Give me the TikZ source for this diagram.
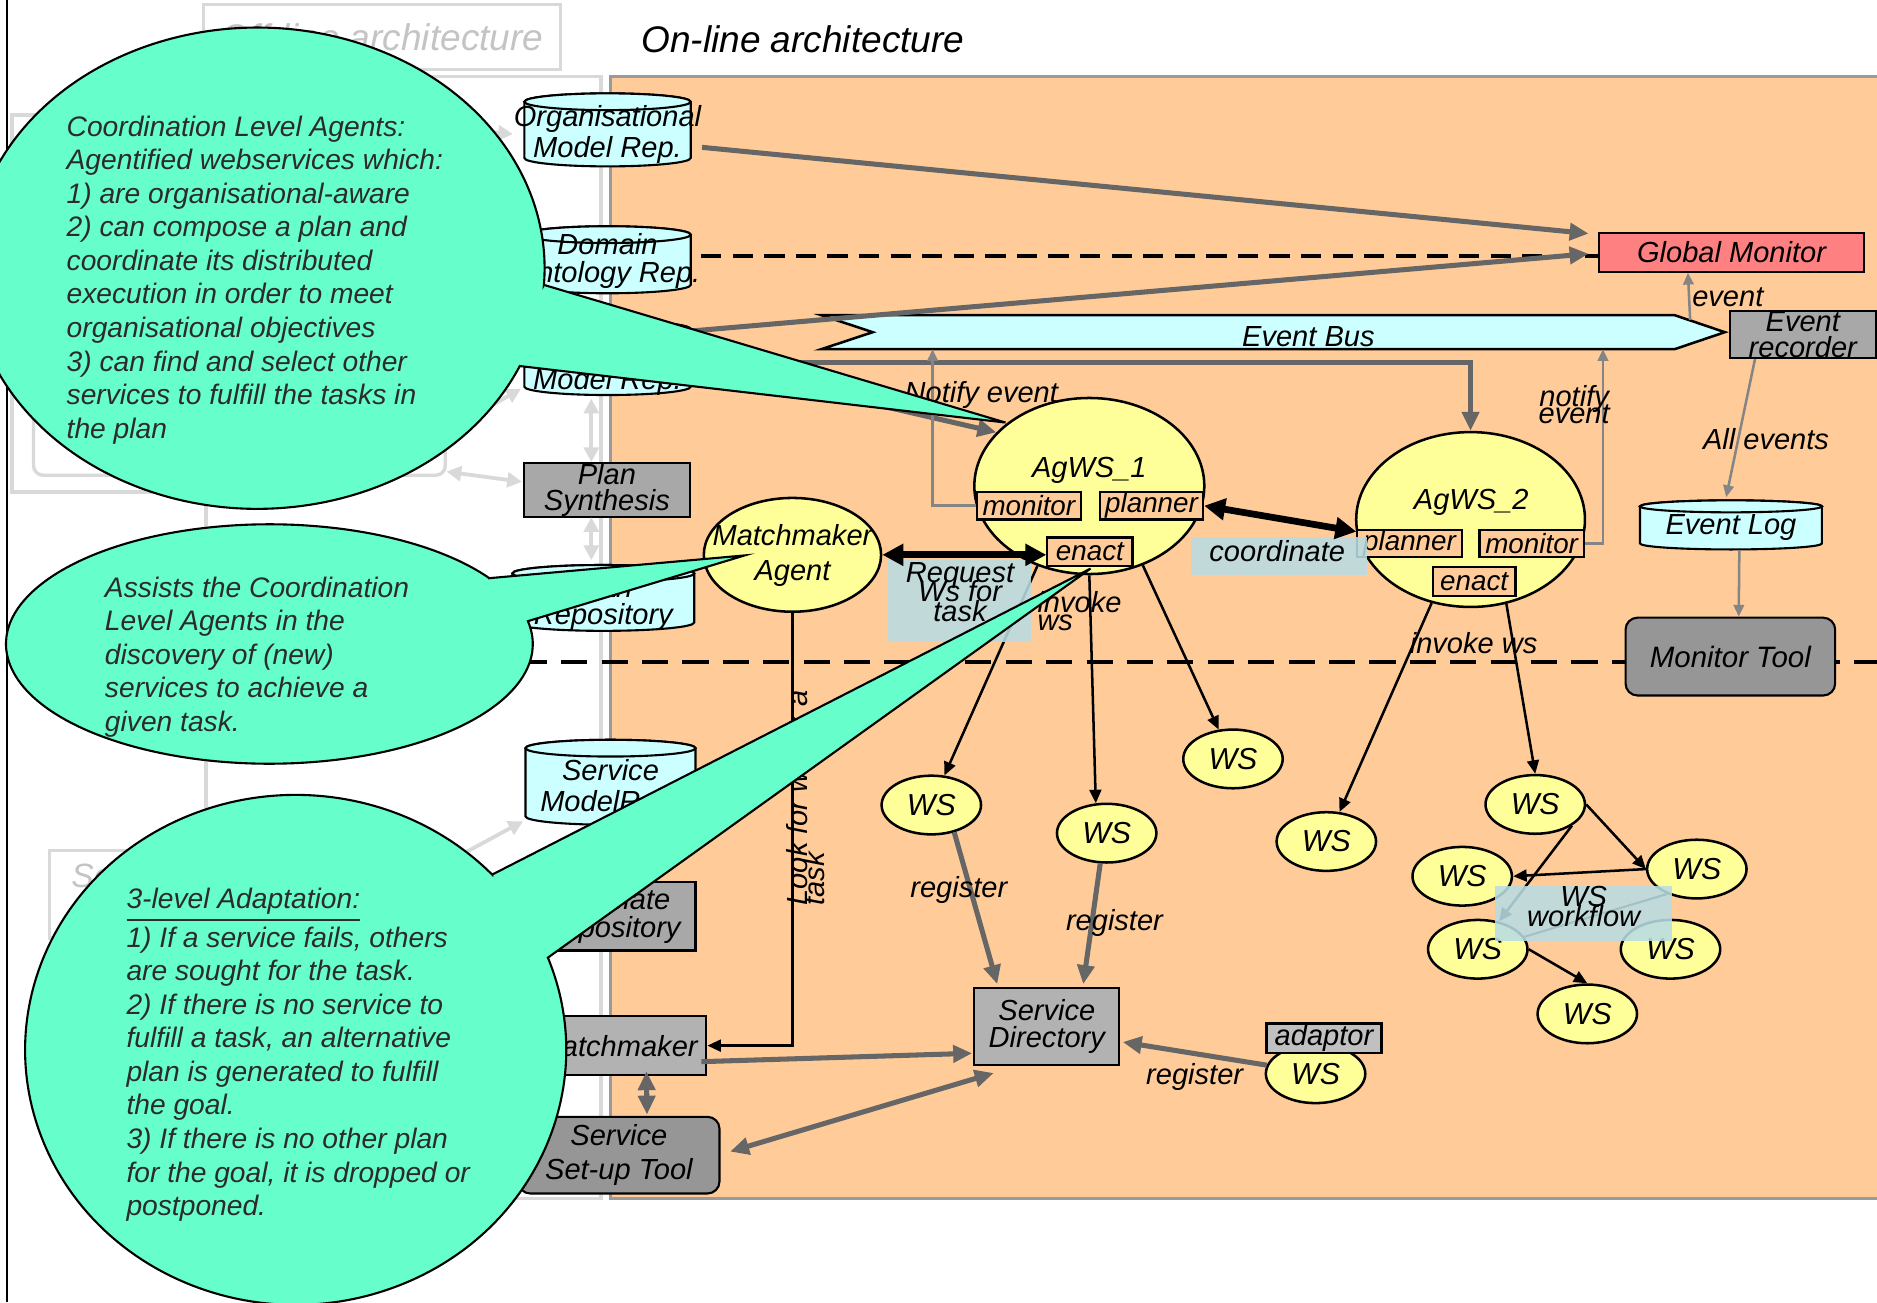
\documentclass[tikz,border=0pt]{standalone}
\usepackage{fontspec}
\setmainfont{Liberation Sans}
\usetikzlibrary{arrows.meta,shapes.geometric,calc}
\definecolor{peach}{HTML}{FFCC99}
\definecolor{cyanfill}{HTML}{CCFFFF}
\definecolor{yel}{HTML}{FFFF99}
\definecolor{calloutc}{HTML}{66FFCC}
\definecolor{wirec}{HTML}{666666}
\definecolor{thinc}{HTML}{858585}
\definecolor{fadedc}{HTML}{D9D9D9}
\definecolor{fadedtxt}{HTML}{C4C4C4}
\definecolor{lblc}{HTML}{B9DCE2}
\definecolor{gmred}{HTML}{FF8080}
\definecolor{grayA}{HTML}{A8A8A8}
\definecolor{grayB}{HTML}{B2B2B2}
\definecolor{grayC}{HTML}{969696}
\definecolor{grayD}{HTML}{C0C0C0}
\definecolor{ctext}{HTML}{2B2B2B}
\definecolor{panelc}{HTML}{9A9A9A}
\newcommand\myft[2]{\fontsize{#1}{#2}\selectfont\itshape\lineskiplimit=-\maxdimen\relax}
\newcommand\mycyl[5]{%
  \filldraw[cylst] (#1-#4,#2+#5) -- (#1-#4,#3-#5)
    arc[start angle=180,end angle=0,x radius=#4,y radius=#5]
    -- (#1+#4,#2+#5)
    arc[start angle=0,end angle=-180,x radius=#4,y radius=#5] -- cycle;
  \filldraw[cylst] (#1,#2+#5) ellipse[x radius=#4,y radius=#5];}
\tikzset{
  every node/.style={font=\myft{6.9}{7.8}, inner sep=0pt, align=center},
  gbox/.style={draw=black, line width=0.5pt, rectangle},
  ell/.style={draw=black, line width=0.6pt, ellipse, fill=yel},
  wsn/.style={ell, minimum width=0.83cm, minimum height=0.49cm, font=\myft{7.2}{8}},
  sub/.style={draw=black, line width=0.5pt, fill=peach, rectangle, font=\myft{6.6}{7}},
  cylst/.style={draw=black, line width=0.5pt, fill=cyanfill},
  gw/.style={draw=wirec, line width=1.2pt},
  gwa/.style={gw, -{Triangle[length=4.5pt,width=4pt]}},
  gwd/.style={gw, {Triangle[length=4.5pt,width=4pt]}-{Triangle[length=4.5pt,width=4pt]}},
  ba/.style={draw=black, line width=0.6pt, -{Triangle[length=3.2pt,width=2.8pt]}},
  bd/.style={draw=black, line width=1.6pt, {Triangle[length=5pt,width=5pt]}-{Triangle[length=5pt,width=5pt]}},
  ta/.style={draw=thinc, line width=0.6pt, -{Triangle[length=2.8pt,width=2.5pt]}},
  fa/.style={draw=fadedc, line width=0.9pt, -{Triangle[length=3.5pt,width=3.5pt]}},
  fad/.style={draw=fadedc, line width=0.9pt, {Triangle[length=3.5pt,width=3.5pt]}-{Triangle[length=3.5pt,width=3.5pt]}},
  lbox/.style={fill=lblc, fill opacity=0.88, rectangle},
  dsh/.style={draw=black, line width=1pt, dash pattern=on 4.8pt off 2.7pt},
  dshb/.style={draw=black, line width=1.1pt, dash pattern=on 6.2pt off 3.4pt},
  co/.style={fill=calloutc, draw=black, line width=0.5pt},
  ct/.style={font=\fontsize{6.7}{7.97}\selectfont\itshape, text=ctext, align=left, anchor=north west},
}
\begin{document}
\begin{tikzpicture}[x=0.01cm,y=-0.01cm]
\useasboundingbox (0,0) rectangle (1568,1088);
\fill[white] (0,0) rectangle (1568,1088);

% ---------- faded off-line part ----------
\node[draw=fadedc, line width=0.8pt, minimum width=2.98cm, minimum height=0.54cm, text=fadedtxt, font=\myft{8.8}{10}] (offtitle) at (319,31) {Off-line architecture};
\draw[fadedc, line width=0.8pt] (172,64) rectangle (502,1001);
\draw[fadedc, line width=0.8pt] (10,96) rectangle (172,411);
\draw[fadedc, line width=0.8pt, rounded corners=0.08cm] (28,300) rectangle (372,397);
\node[draw=fadedc, line width=0.8pt, minimum width=2.0cm, minimum height=0.73cm, anchor=north west] (offse) at (40,709) {};
\node[text=fadedtxt, font=\myft{8}{9}, anchor=west] (offsetxt) at (59,731) {Service};

\draw[black, line width=0.6pt] (6,0) -- (6,1088);

% ---------- on-line panel ----------
\filldraw[fill=peach, draw=panelc, line width=0.8pt] (510,64) rectangle (1575,1001);
\node[font=\myft{8.8}{10}, anchor=west] (title) at (535,33) {On-line architecture};

\coordinate (dla) at (300,553);
\coordinate (dlb) at (1568,553);
\draw[dshb] (dla) -- (dlb);

% ---------- cylinders ----------
\mycyl{507.5}{78}{139}{69.5}{7}
\node[minimum width=1.39cm, minimum height=0.54cm, font=\myft{6.9}{7.4}] (orgrep) at (507.5,112) {Organisational\\Model Rep.};
\mycyl{507.5}{189}{245}{69.5}{7}
\node[minimum width=1.39cm, minimum height=0.49cm, font=\myft{6.9}{6.8}] (domrep) at (507.5,218) {Domain\\Ontology Rep.};
\mycyl{507.5}{268}{330}{69.5}{7}
\node[minimum width=1.39cm, minimum height=0.55cm] (modrep) at (507.5,302.5) {};
\node (modrept) at (507.5,319) {Model Rep.};
\mycyl{504}{472}{527}{76}{7}
\node[minimum width=1.52cm, minimum height=0.48cm, font=\myft{6.9}{6.3}] (planrep) at (504,504) {Plan\\Repository};
\mycyl{510}{618}{689}{71}{7}
\node[minimum width=1.42cm, minimum height=0.64cm, font=\myft{6.9}{7.4}] (svcrep) at (510,659) {Service\\ModelRep.};
\mycyl{1446}{418}{459}{76}{5}
\node[minimum width=1.52cm, minimum height=0.36cm] (eventlog) at (1446,441) {Event Log};

% ---------- boxes ----------
\node[gbox, fill=grayA, minimum width=1.38cm, minimum height=0.45cm, font=\myft{6.9}{6.3}] (plansyn) at (507,409.5) {Plan\\Synthesis};
\node[gbox, fill=grayA, minimum width=1.41cm, minimum height=0.57cm, font=\myft{6.9}{6.6}] (tplrep) at (510.5,765.5) {Template\\Repository};
\node[gbox, fill=grayB, minimum width=1.48cm, minimum height=0.49cm] (mmbox) at (516,873.5) {Matchmaker};
\node[gbox, fill=grayC, rounded corners=0.1cm, minimum width=1.68cm, minimum height=0.64cm, font=\myft{6.9}{8.2}] (setup) at (517,965) {Service\\Set-up Tool};
\node[gbox, fill=grayB, minimum width=1.21cm, minimum height=0.65cm, font=\myft{6.9}{6.5}] (sdir) at (874.5,857.5) {Service\\Directory};
\node[gbox, fill=gmred, minimum width=2.21cm, minimum height=0.32cm] (gmon) at (1446.5,211) {Global Monitor};
\node[gbox, fill=grayA, minimum width=1.22cm, minimum height=0.39cm, font=\myft{6.9}{6}] (evrec) at (1506,279.5) {Event\\recorder};
\node[gbox, fill=grayC, rounded corners=0.1cm, minimum width=1.75cm, minimum height=0.65cm, font=\myft{7}{8}] (montool) at (1445.5,548.5) {Monitor Tool};

% ---------- event bus ----------
\node[minimum width=7.53cm, minimum height=0.27cm] (bus) at (1063.5,277.5) {};
\filldraw[fill=cyanfill, draw=black, line width=0.6pt] (bus.north west) -- ($(bus.north east)+(-42,0)$) -- (bus.east) -- ($(bus.south east)+(-42,0)$) -- (bus.south west) -- ($(bus.west)+(43,0)$) -- cycle;
\node (bustxt) at (1093,281.5) {Event Bus};

% ---------- agents ----------
\node[ell, minimum width=1.92cm, minimum height=1.47cm] (ag1) at (910,406) {};
\node (ag1t) at (910,392.6) {AgWS\_1};
\node[sub, minimum width=0.87cm, minimum height=0.23cm] (mon1) at (859.5,422.5) {monitor};
\node[sub, minimum width=0.86cm, minimum height=0.23cm] (plan1) at (962,422.5) {planner};
\node[sub, minimum width=0.71cm, minimum height=0.24cm] (enact1) at (910.5,461) {enact};

\node[ell, minimum width=1.91cm, minimum height=1.46cm] (ag2) at (1228.5,434) {};
\node (ag2t) at (1229,420) {AgWS\_2};
\node[sub, minimum width=0.87cm, minimum height=0.22cm] (plan2) at (1177.5,454) {planner};
\node[sub, minimum width=0.87cm, minimum height=0.22cm] (mon2) at (1279.5,454) {monitor};
\node[sub, minimum width=0.69cm, minimum height=0.24cm] (enact2) at (1231.5,486) {enact};

\node[ell, minimum width=1.48cm, minimum height=0.95cm] (mma) at (662,463.5) {};
\node[font=\myft{6.9}{8.5}] (mmat) at (662,464) {Matchmaker\\Agent};

% ---------- web services ----------
\node[wsn] (ws1) at (778,672.5) {WS};
\node[wsn] (ws2) at (924.5,696) {WS};
\node[wsn] (ws3) at (1030,634) {WS};
\node[wsn] (ws4) at (1108,703) {WS};
\node[wsn] (wtop) at (1282.5,672) {WS};
\node[wsn] (wleft) at (1221.5,732) {WS};
\node[wsn] (wright) at (1417.5,726) {WS};
\node[wsn] (wbl) at (1234.5,793) {WS};
\node[wsn] (wbr) at (1395.5,793) {WS};
\node[wsn] (wbot) at (1326,847) {WS};
\node[wsn] (wsad) at (1099,897) {WS};
\node[gbox, fill=grayD, minimum width=0.96cm, minimum height=0.25cm] (adaptor) at (1106,867.5) {adaptor};

% ---------- faded connectors ----------
\draw[fa] (405,110) -- (orgrep.west);
\draw[fa] (412,338) -- ($(modrep.south west)+(-2,-6)$);
\draw[fad] (373,394) -- ($(plansyn.west)+(-1,-7)$);
\draw[fad] (494,333) -- (494,386);
\draw[fad] (494,432) -- (494,468);
\draw[fa] (389,712) -- (437,686);

% ---------- gray wires ----------
\draw[dsh] ($(domrep.east)+(0,-4)$) coordinate (d1) -- (d1 -| gmon.west);
\draw[gwa] (orgrep.-8) -- ($(gmon.north west)+(-8,1)$);
\draw[gwa] ($(modrep.east)+(0,-26)$) -- ($(gmon.west)+(-8,1)$);
\draw[gwa] (modrep.east) -| (ag2.north);
\draw[gwa] (modrep.east) -- (ag1.150);
\draw[ta] (mon1.west) -| ($(bus.south west)+(93,0)$);
\draw[ta] (mon2.east) -| ($(bus.south west)+(653,0)$);
\draw[ta] ($(bus.north east)+(-29,4)$) -- ($(gmon.south west)+(75,0)$);
\draw[ta] ($(evrec.south west)+(22,0)$) -- ($(eventlog.north)+(-4,-7)$);
\draw[ta] ($(eventlog.south)+(7,0)$) -- ($(montool.north)+(7,0)$);

\draw[gwa] ($(mmbox.south east)+(-5,-12)$) -- ($(sdir.south west)+(-1,-11)$);
\draw[gwd] ($(mmbox.south)+(24,-4)$) -- ($(setup.north)+(23.5,-1)$);
\draw[gwd] ($(setup.east)+(8,-3)$) -- ($(sdir.south west)+(17,5.5)$);
\draw[gwa] (ws1.-50) -- ($(sdir.north west)+(20,-2)$);
\draw[gwa] (ws2.-102) -- ($(sdir.north east)+(-31,-2)$);
\draw[gwa] (wsad.170) -- ($(sdir.east)+(2,13)$);

% ---------- black connectors ----------
\draw[ba] (ag1.-123) -- (ws1);
\draw[ba] (ag1.south) -- (ws2.110);
\draw[ba] (ag1.-56) -- (ws3.116);
\draw[ba] (ag2.-115) -- (ws4.66);
\draw[ba] (ag2.-67) -- (wtop.north);
\draw[ba] (wtop.east) -- (wright.west);
\draw[ba] (wright.west) -- (wleft.east);
\draw[ba] (wtop.-30) -- (wbl);
\draw[ba] (wbl.east) -- (wbot.north);
\draw[black, line width=0.5pt] (wbl.15) -- (wright.-140);
\draw[ba] (mma.south) |- (mmbox.east);

% ---------- label boxes ----------
\node[lbox, minimum width=1.19cm, minimum height=0.68cm] (reqbox) at (801.5,502) {};
\node[lbox, minimum width=1.47cm, minimum height=0.31cm] (coordbox) at (1068.5,464.5) {};
\node[lbox, minimum width=1.48cm, minimum height=0.46cm] (wfbox) at (1323,763) {};
\node[font=\myft{6.9}{4.7}] (reqtxt) at (802,494.5) {Request\\Ws for\\task};
\node (coordtxt) at (1067,460) {coordinate};
\node[font=\myft{6.9}{4.8}] (wftxt) at (1323,757.5) {WS\\workflow};

\draw[bd] (mma.east) -- (mma.east -| enact1.west);
\draw[bd] (plan1.east) -- ($(plan2.north west)+(0,2)$);

% ---------- labels ----------
\node[anchor=west] (lnot1) at (755,330) {Notify event};
\node[font=\myft{6.9}{3.9}] (lnot2) at (1315,338) {notify\\event};
\node[anchor=west] (levent) at (1413,248) {event};
\node[anchor=west] (lall) at (1422,367) {All events};
\node[anchor=west, align=left, font=\myft{6.9}{4.3}] (linv1) at (866,510.5) {invoke\\ws};
\node (linv2) at (1231,537) {invoke ws};
\node (lreg1) at (801,743.5) {register};
\node (lreg2) at (931,771) {register};
\node (lreg3) at (998,899.5) {register};
\node[rotate=90, anchor=north west, align=left, font=\myft{6.9}{4}] (llook) at (656,757) {Look for ws for a\\task};

% ---------- callouts ----------
\filldraw[co] (454.4,238) -- (840,353) -- (434.2,305.8) arc[start angle=24,end angle=364,x radius=240,y radius=201] -- cycle;
\filldraw[co] (408.7,483) -- (622,464) -- (441,518.9) arc[start angle=-11,end angle=326.6,x radius=220,y radius=100] -- cycle;
\filldraw[co] (411.2,730.6) -- (911,475) -- (457.7,800) arc[start angle=-21.2,end angle=316.6,x radius=226,y radius=213] -- cycle;

\node[ct] (c1t) at (55,96) {Coordination Level Agents:\\Agentified webservices which:\\1) are organisational-aware\\2) can compose a plan and\\coordinate its distributed\\execution in order to meet\\organisational objectives\\3) can find and select other\\services to fulfill the tasks in\\the plan};
\node[ct] (c2t) at (87,481) {Assists the Coordination\\Level Agents in the\\discovery of (new)\\services to achieve a\\given task.};
\node[ct] (c3t) at (105,741) {\underline{3-level Adaptation:}\\1) If a service fails, others\\are sought for the task.\\2) If there is no service to\\fulfill a task, an alternative\\plan is generated to fulfill\\the goal.\\3) If there is no other plan\\for the goal, it is dropped or\\postponed.};
\end{tikzpicture}
\end{document}
